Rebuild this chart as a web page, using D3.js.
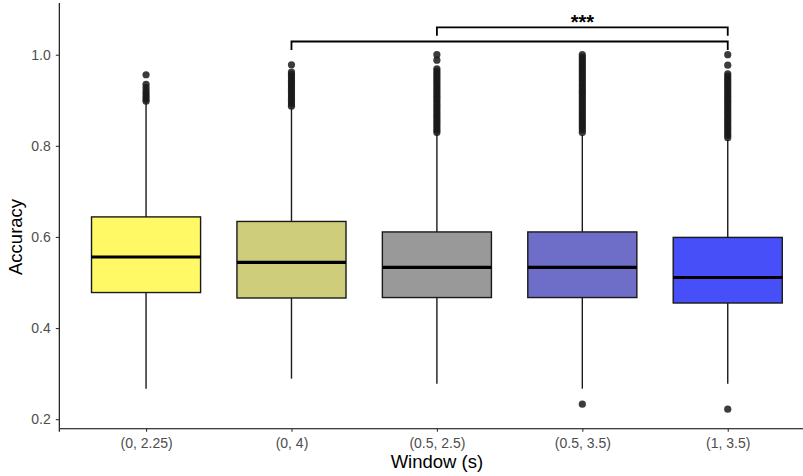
<!DOCTYPE html>
<html>
<head>
<meta charset="utf-8">
<script src="https://cdn.jsdelivr.net/npm/d3@7"></script>
<style>
  body {margin: 0; background: #fff;}
  svg {display: block; font-family: "Liberation Sans", Arial, sans-serif;}
</style>
</head>
<body>
<div class="graph"></div>
<script>
var windows = ['(0, 2.25)', '(0, 4)', '(0.5, 2.5)', '(0.5, 3.5)', '(1, 3.5)']
var fills = ['#fff966', '#cecd7c', '#999999', '#6e6dc8', '#4750f8']

// box stats: [whiskerLow, q1, median, q3, whiskerHigh]
var stats = [
  [0.267, 0.478, 0.556, 0.644, 0.895],
  [0.289, 0.466, 0.544, 0.634, 0.884],
  [0.278, 0.467, 0.533, 0.611, 0.826],
  [0.267, 0.467, 0.533, 0.611, 0.824],
  [0.278, 0.455, 0.511, 0.599, 0.814]
]

var outliers = [
  [0.956, 0.935, 0.928, 0.921, 0.915, 0.909, 0.903, 0.898],
  [0.978, 0.962, 0.957, 0.952, 0.947, 0.942, 0.937, 0.932, 0.927, 0.922, 0.917, 0.912, 0.907, 0.902, 0.897, 0.892, 0.887],
  [1.0, 0.988, 0.969, 0.964, 0.959, 0.954, 0.949, 0.944, 0.939, 0.934, 0.929, 0.924, 0.919, 0.914, 0.909, 0.904,
   0.899, 0.894, 0.889, 0.884, 0.879, 0.874, 0.869, 0.864, 0.859, 0.854, 0.849, 0.844, 0.839, 0.834, 0.829],
  [1.0, 0.995, 0.99, 0.985, 0.98, 0.975, 0.97, 0.965, 0.96, 0.955, 0.95, 0.945, 0.94, 0.935, 0.93, 0.925, 0.92,
   0.915, 0.91, 0.905, 0.9, 0.895, 0.89, 0.885, 0.88, 0.875, 0.87, 0.865, 0.86, 0.855, 0.85, 0.845, 0.84, 0.835, 0.829, 0.233],
  [1.0, 0.977, 0.958, 0.953, 0.948, 0.943, 0.938, 0.933, 0.928, 0.923, 0.918, 0.913, 0.908, 0.903, 0.898, 0.893,
   0.888, 0.883, 0.878, 0.873, 0.868, 0.863, 0.858, 0.853, 0.848, 0.843, 0.838, 0.833, 0.828, 0.823, 0.818, 0.222]
]

var yTicks = [0.2, 0.4, 0.6, 0.8, 1.0]

// significance brackets: [from, to, level, label]
var brackets = [
  ['(0, 4)', '(1, 3.5)', 1.029, ''],
  ['(0.5, 2.5)', '(1, 3.5)', 1.06, '***']
]

var width = 803, height = 476

var svg = d3.select('.graph').append('svg')
  .attr('width', width)
  .attr('height', height)

var x = d3.scalePoint().domain(windows).range([58.8, 815]).padding(0.6)
var y = d3.scaleLinear().domain([0.18, 1.1135]).range([428.3, 3])
var bw = x.step() * 0.75

var data = windows.map((w, i) => ({w, i, s: stats[i], out: outliers[i], fill: fills[i]}))

// axes
var yAxis = svg.append('g').attr('transform', 'translate(59.3,0)')
  .call(d3.axisLeft(y).tickValues(yTicks).tickFormat(d3.format('.1f')).tickSize(3.5).tickPadding(5))
var xAxis = svg.append('g').attr('transform', 'translate(0,428.3)')
  .call(d3.axisBottom(x).tickSize(3.5).tickPadding(6))

;[yAxis, xAxis].forEach(a => {
  a.select('.domain').attr('stroke', '#000').attr('stroke-width', 1.1)
  a.selectAll('.tick line').attr('stroke', '#333').attr('stroke-width', 1.1)
  a.selectAll('.tick text').attr('fill', '#4d4d4d').style('font-size', '14px')
})
yAxis.select('.domain').attr('d', `M0,${y.range()[0]}V${y.range()[1]}`)

// boxes
var g = svg.selectAll('g.box').data(data).join('g').attr('class', 'box')
  .attr('transform', d => `translate(${x(d.w)},0)`)

g.append('line')
  .attr('y1', d => y(d.s[0])).attr('y2', d => y(d.s[1]))
  .attr('stroke', '#1a1a1a').attr('stroke-width', 1.4)
g.append('line')
  .attr('y1', d => y(d.s[3])).attr('y2', d => y(d.s[4]))
  .attr('stroke', '#1a1a1a').attr('stroke-width', 1.4)

g.append('rect')
  .attr('x', -bw / 2).attr('width', bw)
  .attr('y', d => y(d.s[3]))
  .attr('height', d => y(d.s[1]) - y(d.s[3]))
  .attr('fill', d => d.fill)
  .attr('stroke', '#1a1a1a').attr('stroke-width', 1.4)

g.append('line')
  .attr('x1', -bw / 2).attr('x2', bw / 2)
  .attr('y1', d => y(d.s[2])).attr('y2', d => y(d.s[2]))
  .attr('stroke', '#000').attr('stroke-width', 3.2)

g.selectAll('circle').data(d => d.out).join('circle')
  .attr('cy', d => y(d)).attr('r', 3.6)
  .attr('fill', '#1a1a1a').attr('fill-opacity', 0.85)

// brackets
var bg = svg.selectAll('g.bracket').data(brackets).join('g').attr('class', 'bracket')
bg.append('path')
  .attr('d', d => {
    var yl = y(d[2]), drop = 8.5
    return `M${x(d[0])},${yl + drop}V${yl}H${x(d[1])}V${yl + drop}`
  })
  .attr('fill', 'none').attr('stroke', '#000').attr('stroke-width', 1.8)
bg.append('text')
  .attr('x', d => (x(d[0]) + x(d[1])) / 2)
  .attr('y', d => y(d[2]) + 2)
  .attr('text-anchor', 'middle')
  .style('font-size', '20px').style('font-weight', 'bold')
  .text(d => d[3])

// axis titles
svg.append('text')
  .attr('x', (x.range()[0] + x.range()[1]) / 2).attr('y', 468)
  .attr('text-anchor', 'middle').style('font-size', '18.5px')
  .text('Window (s)')
svg.append('text')
  .attr('transform', `translate(21.5,${y(0.6)}) rotate(-90)`)
  .attr('text-anchor', 'middle').style('font-size', '18.5px')
  .text('Accuracy')
</script>
</body>
</html>
